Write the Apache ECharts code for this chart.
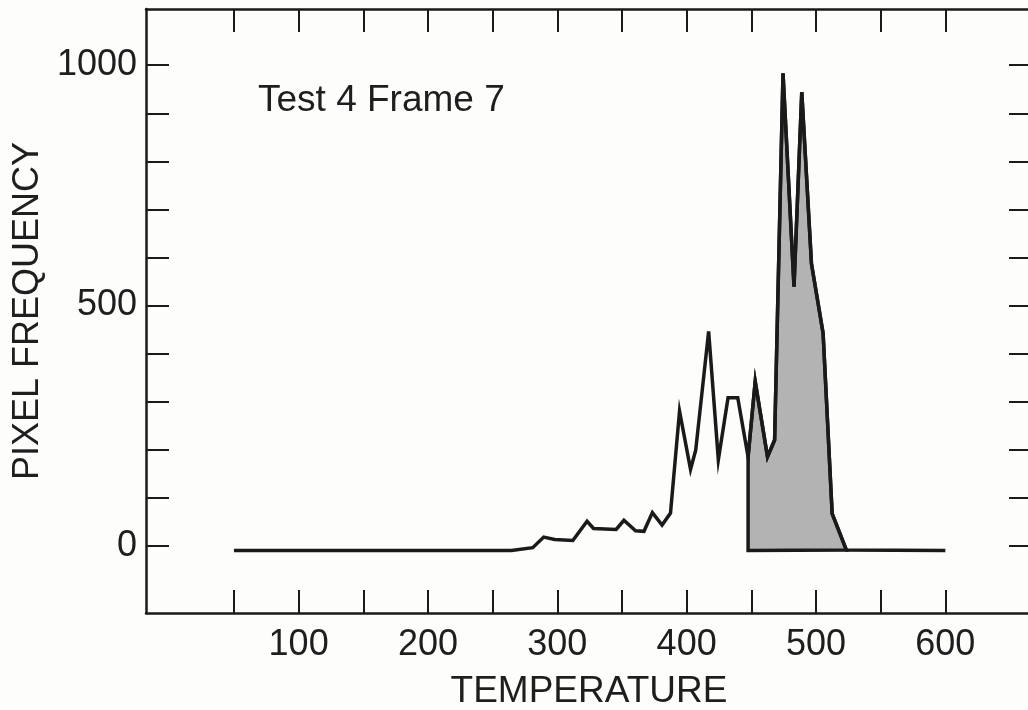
<!DOCTYPE html>
<html lang="en">
<head>
    <meta charset="UTF-8">
    <title>Test 4 Frame 7</title>
    <script src="https://cdn.jsdelivr.net/npm/echarts@6.0.0/dist/echarts.min.js"></script>
    <style>
        html, body { margin: 0; padding: 0; background: #fdfdfb; }
    </style>
</head>
<body>
    <div id="main" style="width: 1028px; height: 710px;"></div>
    <script>
        // histogram
        var temperature = [50, 264.5, 281, 289.5, 298, 312, 323, 328, 345.5, 351.5, 360.5, 367, 373.5, 381, 387.5,
            394.5, 403, 407, 417, 424.5, 432, 439.5, 447.5, 453, 462.5, 468, 474.5, 483, 489, 496.5, 505.5,
            512.5, 523.5, 600];
        var frequency = [-10, -10, -4, 18, 13, 11, 51, 36, 34, 53, 31, 30, 69, 43, 68,
            280, 159, 199, 446, 179, 308, 308, 185, 342, 185, 220, 983, 539, 944, 587, 442,
            67, -9, -10];

        // shaded part (from 447.5 upward)
        var shadeTemp = [447.5, 447.5, 453, 462.5, 468, 474.5, 483, 489, 496.5, 505.5, 512.5, 523.5];
        var shadeFreq = [-10, 185, 342, 185, 220, 983, 539, 944, 587, 442, 67, -9];

        var xTicks = [50, 100, 150, 200, 250, 300, 350, 400, 450, 500, 550, 600];
        var xLabels = [100, 200, 300, 400, 500, 600];
        var yTicks = [0, 100, 200, 300, 400, 500, 600, 700, 800, 900, 1000];
        var yLabels = [0, 500, 1000];

        var ink = '#1a1a1a';
        var textInk = '#1e1e1e';
        var font = 'Liberation Sans';

        var chartDom = document.getElementById('main');
        var myChart = echarts.init(chartDom);

        var lineData = temperature.map(function (t, i) { return [t, frequency[i]]; });

        function frameAxis(extra) {
            return Object.assign({
                type: 'value',
                axisLine: { show: true, onZero: false, lineStyle: { color: ink, width: 2.5 } },
                splitLine: { show: false }
            }, extra);
        }

        function ticks(values) {
            return { show: true, inside: true, length: 23, customValues: values, lineStyle: { color: ink, width: 2 } };
        }

        var option = {
            backgroundColor: '#fdfdfb',
            animation: false,
            title: {
                text: 'Test 4 Frame 7',
                left: 253,
                top: 77,
                textStyle: { fontFamily: font, fontSize: 37, fontWeight: 'normal', color: textInk }
            },
            grid: { left: 146, right: -4, top: 9, bottom: 97, outerBoundsMode: 'none' },
            xAxis: [
                frameAxis({
                    position: 'bottom', min: -18, max: 667,
                    axisTick: ticks(xTicks),
                    axisLabel: { customValues: xLabels, fontFamily: font, fontSize: 36, color: textInk, margin: 14 },
                    name: 'TEMPERATURE', nameLocation: 'middle', nameGap: 60,
                    nameTextStyle: { fontFamily: font, fontSize: 37, color: textInk }
                }),
                frameAxis({
                    position: 'top', min: -18, max: 667,
                    axisTick: ticks(xTicks),
                    axisLabel: { show: false }
                })
            ],
            yAxis: [
                frameAxis({
                    position: 'left', min: -140, max: 1117,
                    axisTick: ticks(yTicks),
                    axisLabel: {
                        customValues: yLabels, fontFamily: font, fontSize: 36, color: textInk, margin: 9,
                        formatter: function (v) { return String(v); }
                    },
                    name: 'PIXEL FREQUENCY', nameLocation: 'middle', nameGap: 100, nameRotate: 90,
                    nameTextStyle: { fontFamily: font, fontSize: 36, color: textInk }
                }),
                frameAxis({
                    position: 'right', min: -140, max: 1117,
                    axisTick: ticks(yTicks),
                    axisLabel: { show: false }
                })
            ],
            series: [
                {
                    name: 'shade',
                    type: 'custom',
                    z: 1,
                    data: [[0, 0]],
                    renderItem: function (params, api) {
                        var pts = shadeTemp.map(function (t, i) { return api.coord([t, shadeFreq[i]]); });
                        return {
                            type: 'polygon',
                            shape: { points: pts },
                            style: { fill: '#b3b3b3', stroke: ink, lineWidth: 3.5 }
                        };
                    }
                },
                {
                    name: 'frequency',
                    type: 'line',
                    z: 3,
                    data: lineData,
                    showSymbol: false,
                    lineStyle: { color: ink, width: 3.5, join: 'miter' }
                }
            ]
        };

        option && myChart.setOption(option);
    </script>
</body>
</html>
